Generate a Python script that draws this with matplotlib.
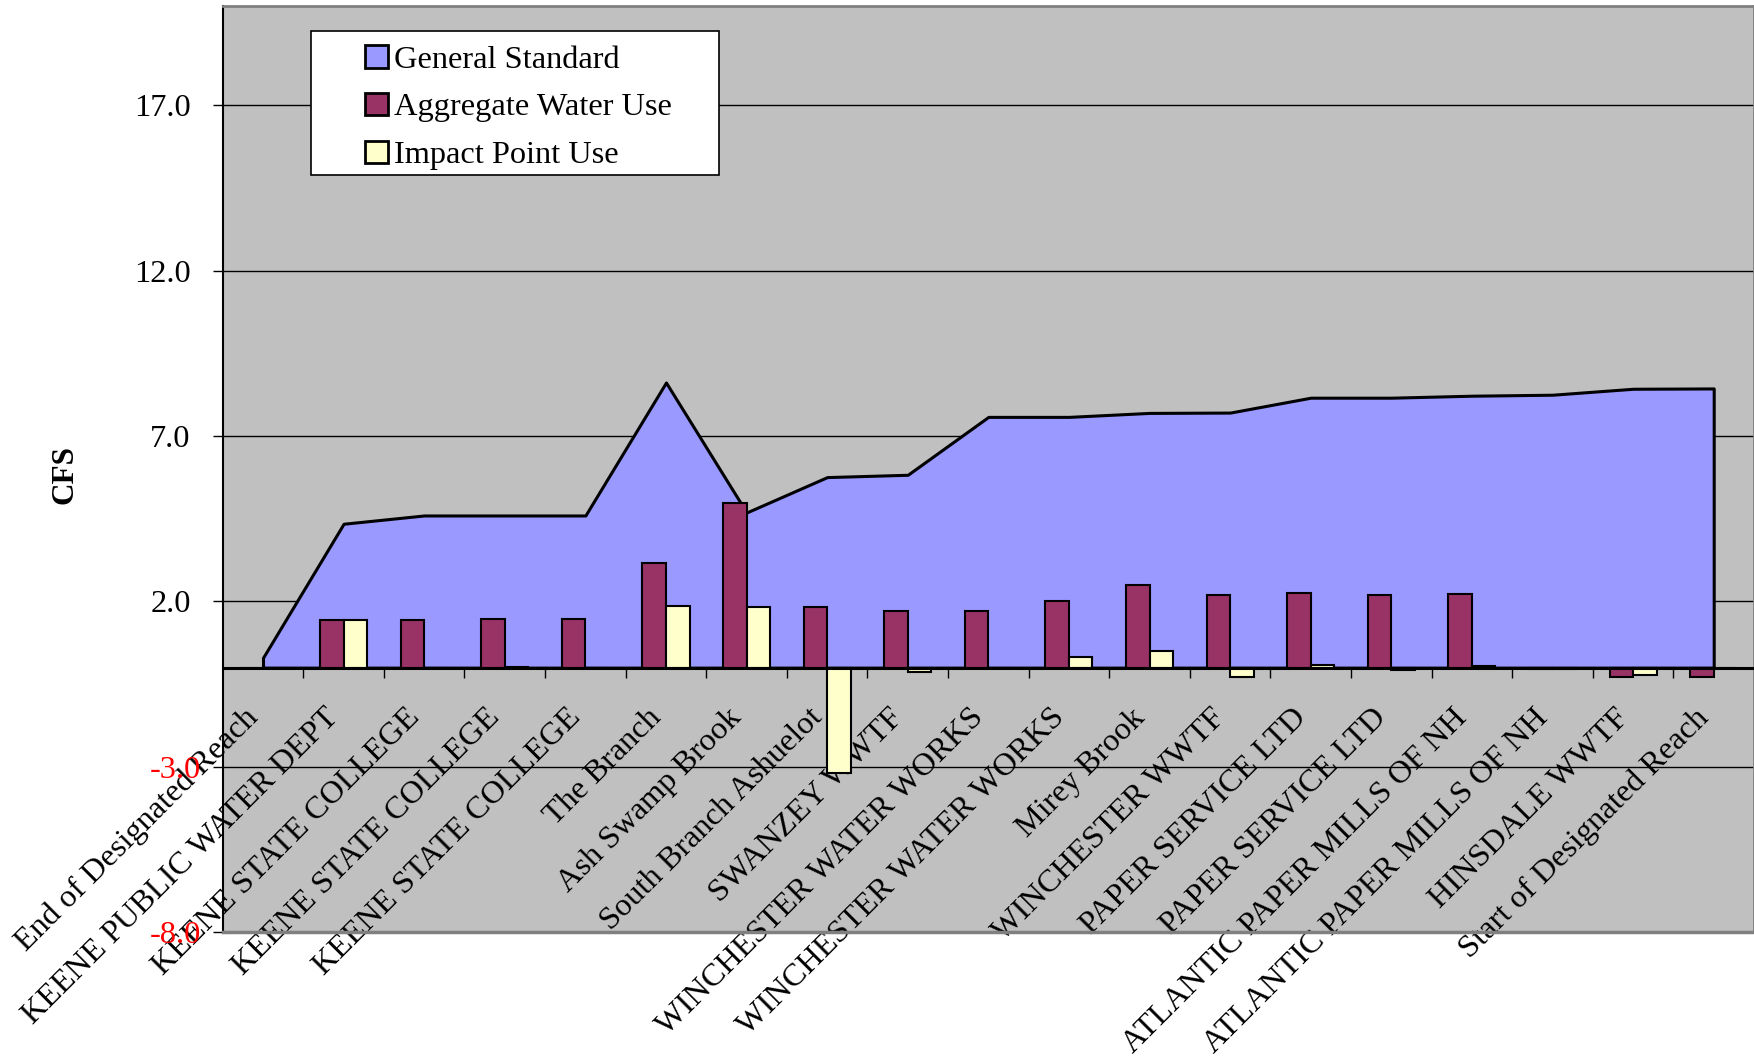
import numpy as np
import matplotlib
matplotlib.use("Agg")
import matplotlib.pyplot as plt
from matplotlib.patches import Rectangle
from matplotlib.transforms import ScaledTranslation

plt.rcParams['font.family'] = ['Liberation Serif', 'DejaVu Serif']

categories = [
    "End of Designated Reach", "KEENE PUBLIC WATER DEPT", "KEENE STATE COLLEGE",
    "KEENE STATE COLLEGE", "KEENE STATE COLLEGE", "The Branch", "Ash Swamp Brook",
    "South Branch Ashuelot", "SWANZEY WWTF", "WINCHESTER WATER WORKS",
    "WINCHESTER WATER WORKS", "Mirey Brook", "WINCHESTER WWTF", "PAPER SERVICE LTD",
    "PAPER SERVICE LTD", "ATLANTIC PAPER MILLS OF NH", "ATLANTIC PAPER MILLS OF NH",
    "HINSDALE WWTF", "Start of Designated Reach",
]
general_standard = [0.30, 4.35, 4.60, 4.60, 4.60, 8.62, 4.69, 5.76, 5.83, 7.58,
                    7.58, 7.70, 7.71, 8.16, 8.16, 8.22, 8.25, 8.43, 8.44]
aggregate_use = [0.0, 1.45, 1.45, 1.47, 1.47, 3.17, 4.99, 1.84, 1.70, 1.70,
                 2.02, 2.49, 2.20, 2.26, 2.20, 2.24, -0.03, -0.27, -0.27]
impact_use = [0.0, 1.45, 0.0, 0.03, 0.0, 1.85, 1.82, -3.17, -0.12, 0.0,
              0.33, 0.50, -0.29, 0.07, -0.06, 0.04, -0.03, -0.21, 0.0]
series_names = ["General Standard", "Aggregate Water Use", "Impact Point Use"]
y_ticks = [-8.0, -3.0, 2.0, 7.0, 12.0, 17.0]

FS = 23.3
W, H = 1754, 1058
fig = plt.figure(figsize=(W / 100, H / 100), dpi=100)
L, R, T, B = 222.7, 1754.0, 6.0, 932.3
ax = fig.add_axes([L / W, 1 - B / H, (R - L) / W, (B - T) / H])
ax.set_facecolor('#C0C0C0')

# spines first (moving a spine resets tick properties)
ax.spines['bottom'].set_position(('data', 0))
ax.spines['bottom'].set_linewidth(2.2)
ax.spines['bottom'].set_zorder(4)
ax.spines['left'].set_color('black')
ax.spines['left'].set_linewidth(1.5)
for s in ('top', 'right'):
    ax.spines[s].set_color('#808080')
    ax.spines[s].set_linewidth(2)

x = np.arange(len(categories))
area = ax.fill_between(x, general_standard, 0, facecolor='#9999FF',
                       edgecolor='black', linewidth=2.2, zorder=2)
bw = 0.292
b1 = ax.bar(x - bw / 2, aggregate_use, width=bw, color='#993366',
            edgecolor='black', linewidth=1.5, zorder=3)
b2 = ax.bar(x + bw / 2, impact_use, width=bw, color='#FFFFCC',
            edgecolor='black', linewidth=1.5, zorder=3)

ax.set_xlim(-0.5, len(categories) - 0.5)
ax.set_ylim(-8, 20)
ax.set_yticks(y_ticks)
ax.set_yticklabels([f"{v:.1f}" for v in y_ticks], fontsize=FS)
ax.yaxis.grid(True, color='black', linewidth=1.0)
ax.set_axisbelow(True)
ax.tick_params(axis='y', direction='out', length=7, width=1, pad=16)
rshift = ScaledTranslation(10 / 100, 0, fig.dpi_scale_trans)
for lab, v in zip(ax.get_yticklabels(), y_ticks):
    if v < 0:
        lab.set_color('red')
        lab.set_transform(lab.get_transform() + rshift)

ax.set_xticks(x)
ax.set_xticks(np.arange(0.5, len(categories) - 1, 1), minor=True)
ax.tick_params(axis='x', which='major', length=0, pad=33)
ax.tick_params(axis='x', which='minor', direction='out', length=7, width=1)
ax.set_xticklabels(categories, rotation=45, ha='right', va='center',
                   rotation_mode='anchor', fontsize=FS)
shift = ScaledTranslation(-9 / 100, 0, fig.dpi_scale_trans)
for lab in ax.get_xticklabels():
    lab.set_transform(lab.get_transform() + shift)

ax.plot([0, 1], [0, 0], transform=ax.transAxes, color='#808080', lw=2.5,
        clip_on=False, zorder=5)

ax.set_ylabel('CFS', fontsize=22.5, fontweight='bold', va='center')
ax.yaxis.set_label_coords((65 - L) / (R - L), (B - 475) / (B - T))

# legend frame
def ax_x(px):
    return (px - L) / (R - L)
def ax_y(py):
    return (B - py) / (B - T)
ax.add_patch(Rectangle((ax_x(311), ax_y(175)), ax_x(719) - ax_x(311),
                       ax_y(31) - ax_y(175), transform=ax.transAxes,
                       facecolor='white', edgecolor='black', linewidth=1.2,
                       zorder=6, clip_on=False))
leg = ax.legend([area, b1, b2], series_names, loc='upper left',
                bbox_to_anchor=(ax_x(365), ax_y(45)), frameon=False,
                borderpad=0, borderaxespad=0, handlelength=0.7,
                handleheight=0.7, handletextpad=0.2, labelspacing=0.56,
                fontsize=FS)
leg.set_zorder(7)
for h in leg.legend_handles:
    h.set_linewidth(2)

fig.savefig('out.png', dpi=100, facecolor='white')
